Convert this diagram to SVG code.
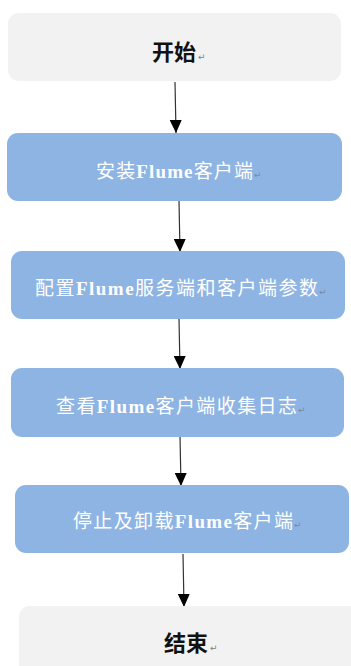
<svg xmlns="http://www.w3.org/2000/svg" width="351" height="666" viewBox="0 0 351 666">
<style>
.term{fill:#f2f2f2;}
.proc{fill:#8eb4e3;}
.tt{font-family:"Liberation Serif","Noto Sans CJK SC",serif;font-size:22px;font-weight:bold;fill:#111;}
.pt{font-family:"Liberation Serif","Noto Sans CJK SC",serif;font-size:19px;fill:#ffffff;}
.fl{font-weight:bold;}
.rt{font-family:"DejaVu Sans",sans-serif;font-size:9px;fill:#808080;}
.rtw{font-family:"DejaVu Sans",sans-serif;font-size:9px;fill:#7a8aa0;}
.edge{stroke:#333;stroke-width:1.2;fill:none;marker-end:url(#ah);}
</style>
<defs>
<marker id="ah" markerUnits="userSpaceOnUse" markerWidth="14" markerHeight="12" viewBox="0 0 14 12" refX="13" refY="6" orient="auto">
<path d="M0,0 L13,6 L0,12 Z" fill="#000"/>
</marker>
</defs>
<rect width="351" height="666" fill="#ffffff"/>
<g id="connectors">
<line class="edge" x1="175" y1="82" x2="176" y2="133"/>
<line class="edge" x1="179" y1="201" x2="180" y2="252"/>
<line class="edge" x1="179" y1="319" x2="180" y2="369"/>
<line class="edge" x1="180" y1="436" x2="181" y2="486"/>
<line class="edge" x1="183" y1="554" x2="184" y2="607"/>
</g>
<g id="start">
<rect class="term" x="8" y="13" width="333" height="68" rx="11"/>
<text class="tt" x="152" y="60">开始</text><text class="rt" x="198" y="60">↵</text>
</g>
<g id="step1">
<rect class="proc" x="7" y="133" width="335" height="68" rx="11"/>
<text class="pt" x="96" y="178" textLength="157" lengthAdjust="spacing">安装<tspan class="fl">Flume</tspan>客户端</text><text class="rtw" x="254" y="178">↵</text>
</g>
<g id="step2">
<rect class="proc" x="11" y="251" width="334" height="68" rx="11"/>
<text class="pt" x="35" y="295" textLength="283" lengthAdjust="spacing">配置<tspan class="fl">Flume</tspan>服务端和客户端参数</text><text class="rtw" x="319" y="295">↵</text>
</g>
<g id="step3">
<rect class="proc" x="11" y="368" width="333" height="69" rx="11"/>
<text class="pt" x="56" y="413" textLength="241" lengthAdjust="spacing">查看<tspan class="fl">Flume</tspan>客户端收集日志</text><text class="rtw" x="298" y="413">↵</text>
</g>
<g id="step4">
<rect class="proc" x="15" y="485" width="334" height="68" rx="11"/>
<text class="pt" x="73" y="528" textLength="220" lengthAdjust="spacing">停止及卸载<tspan class="fl">Flume</tspan>客户端</text><text class="rtw" x="294" y="528">↵</text>
</g>
<g id="end">
<rect class="term" x="19" y="606" width="345" height="80" rx="11"/>
<text class="tt" x="164" y="651">结束</text><text class="rt" x="210" y="651">↵</text>
</g>
</svg>
